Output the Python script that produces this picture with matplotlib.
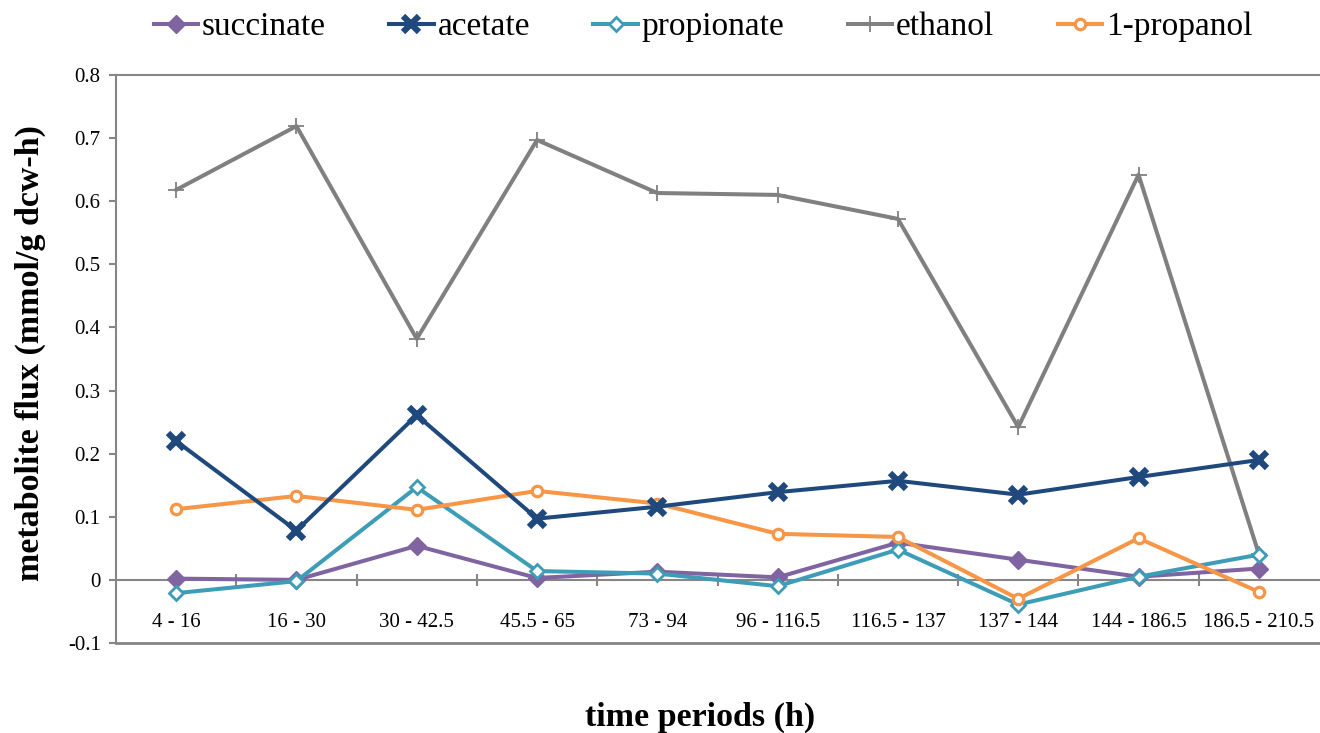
import matplotlib
matplotlib.use("Agg")
import matplotlib.pyplot as plt
import numpy as np

periods = ["4 - 16", "16 - 30", "30 - 42.5", "45.5 - 65", "73 - 94", "96 - 116.5",
           "116.5 - 137", "137 - 144", "144 - 186.5", "186.5 - 210.5"]
succinate = [0.002, 0.000, 0.054, 0.003, 0.013, 0.004, 0.059, 0.032, 0.005, 0.018]
acetate = [0.220, 0.078, 0.261, 0.097, 0.116, 0.139, 0.157, 0.135, 0.163, 0.190]
propionate = [-0.021, -0.002, 0.147, 0.014, 0.010, -0.010, 0.048, -0.039, 0.005, 0.040]
ethanol = [0.618, 0.719, 0.382, 0.697, 0.613, 0.610, 0.572, 0.242, 0.642, 0.041]
propanol = [0.112, 0.133, 0.111, 0.141, 0.121, 0.073, 0.068, -0.030, 0.066, -0.019]
yticks = [-0.1, 0, 0.1, 0.2, 0.3, 0.4, 0.5, 0.6, 0.7, 0.8]

plt.rcParams['font.family'] = ['Liberation Serif', 'DejaVu Serif']

fig = plt.figure(figsize=(13.2, 7.33), dpi=100)
ax = fig.add_axes([116/1320, 1-643/733, (1319-116)/1320, (643-75)/733])

x = np.arange(len(periods))
grey = '#868686'
lw = 2.9

ax.plot(x, succinate, color='#8064A2', lw=lw, marker='D', ms=9, mfc='#8064A2', mec='#8064A2', label='succinate', zorder=3)
ax.plot(x, acetate, color='#1F497D', lw=lw, marker='x', ms=12, mec='#1F497D', mew=4.5, label='acetate', zorder=4)
ax.plot(x, propionate, color='#3D9DB6', lw=lw, marker='D', ms=7, mfc='white', mec='#3D9DB6', mew=2.0, label='propionate', zorder=3)
ax.plot(x, ethanol, color='#808080', lw=lw, marker='+', ms=11, mec='#808080', mew=1.3, label='ethanol', zorder=2)
ax.plot(x, propanol, color='#F79646', lw=lw, marker='o', ms=7.5, mfc='white', mec='#F79646', mew=2.3, label='1-propanol', zorder=3)

ax.set_xlim(-0.5, len(periods) - 0.5)
ax.set_ylim(-0.1, 0.8)
ax.set_yticks(yticks)
ax.set_yticklabels([f"{v:g}" for v in yticks], fontsize=15)

ax.spines['right'].set_visible(False)
ax.spines['top'].set_color(grey)
ax.spines['top'].set_linewidth(1.5)
ax.spines['left'].set_color(grey)
ax.spines['left'].set_linewidth(1.5)
ax.spines['bottom'].set_position(('data', 0))
ax.spines['bottom'].set_color(grey)
ax.spines['bottom'].set_linewidth(1.5)
ax.axhline(-0.1, color=grey, lw=2.0, clip_on=False, zorder=1)

ax.set_xticks(x)
ax.set_xticklabels(periods, fontsize=15)
ax.tick_params(axis='x', which='major', length=0, pad=24)
ax.set_xticks(np.arange(0.5, len(periods) - 0.5, 1.0), minor=True)
ax.tick_params(axis='x', which='minor', length=8, width=1.5, color=grey, direction='inout')
ax.tick_params(axis='y', length=5, width=1.5, color=grey, direction='out', pad=6)

fig.text(30/1320, 1-353/733, 'metabolite flux (mmol/g dcw-h)', rotation=90,
         fontsize=24.5, fontweight='bold', ha='center', va='center')
fig.text(700/1320, 1-717/733, 'time periods (h)', fontsize=24.5, fontweight='bold',
         ha='center', va='center')

leg = fig.legend(loc='center', bbox_to_anchor=(703/1320, 1-27/733), ncol=5, frameon=False,
                 fontsize=24, handlelength=1.33, handletextpad=0.12, columnspacing=1.9,
                 borderaxespad=0)

fig.savefig('out.png', dpi=100)
